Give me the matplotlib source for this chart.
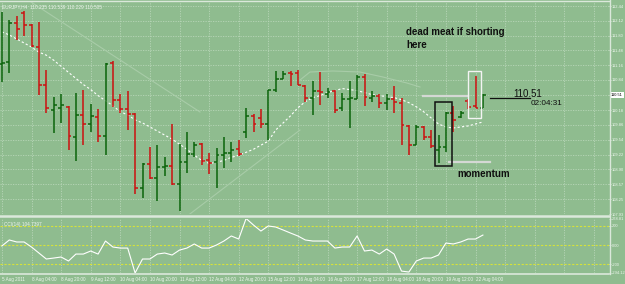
import numpy as np
import matplotlib
matplotlib.use('Agg')
import matplotlib.pyplot as plt
from matplotlib.lines import Line2D
from matplotlib.patches import Rectangle
import matplotlib.transforms as mtransforms

plt.rcParams['font.family'] = ['Liberation Sans', 'DejaVu Sans']

# EURJPY H4 bars, 5 Aug 2011 .. 22 Aug 2011
opens = [111.177, 111.221, 112.076, 112.296, 112.033, 111.550, 110.738, 110.190, 110.233, 110.255,
         109.597, 110.080, 109.882, 110.036, 109.619, 111.199, 110.409, 110.212, 110.102, 108.500,
         109.005, 108.720, 108.939, 108.961, 108.588, 109.049, 109.224, 109.444, 109.093, 109.049,
         109.202, 109.246, 109.334, 109.707, 110.058, 110.014, 109.882, 110.628, 110.848, 110.979,
         110.979, 110.716, 110.453, 110.606, 110.541, 110.606, 110.233, 110.431, 110.431, 110.892,
         110.453, 110.497, 110.343, 110.431, 110.343, 109.839, 109.422, 109.817, 109.597, 109.312,
         109.378, 110.124, 110.036, 110.387, 110.277, 110.235]
highs = [112.318, 112.142, 112.230, 112.340, 112.050, 112.098, 111.045, 110.475, 110.541, 110.277,
         110.563, 110.628, 110.321, 110.212, 111.199, 111.243, 110.541, 110.606, 110.120, 109.027,
         109.378, 109.422, 109.158, 109.882, 109.444, 109.707, 109.487, 109.466, 109.246, 109.356,
         109.597, 109.487, 109.531, 110.233, 110.102, 110.212, 110.628, 111.023, 111.023, 111.023,
         111.045, 110.738, 110.804, 111.001, 110.672, 110.620, 110.563, 110.804, 110.936, 110.958,
         110.606, 110.541, 110.541, 110.716, 110.453, 109.861, 109.861, 109.839, 109.751, 109.641,
         110.146, 110.277, 110.168, 110.431, 110.914, 110.539]
lows = [110.782, 110.979, 111.703, 111.791, 111.550, 110.519, 110.124, 109.685, 109.904, 109.312,
        109.071, 109.422, 109.707, 109.487, 109.202, 110.255, 110.124, 109.751, 108.369, 108.281,
        108.698, 108.215, 108.764, 108.566, 107.996, 108.829, 109.158, 108.983, 108.807, 108.500,
        108.917, 109.049, 109.180, 109.575, 109.707, 109.795, 109.531, 110.585, 110.848, 110.716,
        110.738, 110.365, 110.080, 110.299, 110.453, 110.124, 110.168, 109.795, 110.431, 110.277,
        110.365, 110.233, 110.190, 110.124, 109.422, 109.202, 109.422, 109.531, 109.356, 109.027,
        109.268, 109.707, 110.014, 110.212, 110.233, 110.229]
closes = [111.199, 112.076, 111.945, 112.033, 111.572, 110.738, 110.233, 110.299, 110.299, 109.619,
          110.080, 109.882, 110.058, 109.619, 111.180, 110.409, 110.212, 110.102, 108.500, 109.010,
          108.720, 108.939, 108.961, 108.588, 109.049, 109.224, 109.422, 109.071, 109.027, 109.202,
          109.246, 109.312, 109.224, 110.058, 109.882, 109.882, 110.610, 110.848, 110.958, 110.958,
          110.738, 110.453, 110.606, 110.585, 110.585, 110.190, 110.431, 110.453, 110.892, 110.475,
          110.497, 110.343, 110.431, 110.365, 109.861, 109.422, 109.817, 109.597, 109.400, 109.378,
          110.124, 109.970, 110.124, 110.255, 110.230, 110.505]
# moving average (dashed white)
ma = [111.879, 111.813, 111.725, 111.638, 111.550, 111.440, 111.374, 111.265, 111.133, 111.001,
      110.870, 110.738, 110.628, 110.497, 110.387, 110.277, 110.146, 110.080, 109.970, 109.904,
      109.817, 109.729, 109.641, 109.553, 109.444, 109.334, 109.202, 109.093, 109.027, 109.049,
      109.093, 109.158, 109.202, 109.268, 109.334, 109.422, 109.509, 109.751, 109.904, 110.058,
      110.233, 110.365, 110.453, 110.497, 110.563, 110.606, 110.650, 110.628, 110.606, 110.563,
      110.519, 110.497, 110.475, 110.453, 110.409, 110.343, 110.255, 110.146, 110.014, 109.882,
      109.817, 109.795, 109.817, 109.839, 109.882, 109.926]
# CCI(14)
cci = [-10, 53, 32, 32, -21, -84, -147, -137, -126, -168,
       -95, -95, -63, -95, 42, -21, -32, -32, -294.12, -147,
       -147, -95, -84, -105, -53, -32, 11, -32, -32, 0,
       42, 95, 63, 278.81, 210, 147, 200, 189, 158, 126,
       95, 53, 42, 42, 42, -32, -21, -21, 95, -63,
       -53, -95, -42, -95, -274, -284, -168, -137, -137, -105,
       21, 11, 32, 63, 63, 104.74]

# faint drawn lines (bar index, price)
trend_down_x = [3.53, 26.77]
trend_down_y = [112.570, 110.142]
trend_up_x = [25.4, 40.28]
trend_up_y = [107.930, 109.751]
arc_x = [40.28, 41.63, 44.74, 48.39, 51.5, 54.74, 56.5]
arc_y = [110.835, 111.009, 111.031, 111.009, 110.900, 110.770, 110.684]

time_labels = ['5 Aug 2011', '8 Aug 04:00', '8 Aug 20:00', '9 Aug 12:00', '10 Aug 04:00',
               '10 Aug 20:00', '11 Aug 12:00', '12 Aug 04:00', '12 Aug 20:00', '15 Aug 12:00',
               '16 Aug 04:00', '16 Aug 20:00', '17 Aug 12:00', '18 Aug 04:00', '18 Aug 20:00',
               '19 Aug 12:00', '22 Aug 04:00']
price_ticks = [107.93, 108.25, 108.57, 108.90, 109.22, 109.54, 109.86, 110.18, 110.51,
               110.84, 111.16, 111.48, 111.80, 112.12, 112.44]
cci_ticks = [278.81, 200, 0, -200, -294.12]
cci_tick_labels = ['278.81', '200', '0.00', '-200', '-294.12']
last_price = 110.505

BG = '#8fbc8f'
GREEN = '#0a640a'
RED = '#cc1010'
GRID = '#b8d6b8'
FAINT = '#a8cca8'
TXT = '#eef5ee'
W, H = 625, 284
SP = 7.4      # pixels per bar
X0 = 1.9      # pixel of first bar


def px_rect(x0, y0, x1, y1):
    return [x0 / W, 1 - y1 / H, (x1 - x0) / W, (y1 - y0) / H]


fig = plt.figure(figsize=(6.25, 2.84), dpi=100, facecolor=BG)
ax = fig.add_axes(px_rect(0, 2, 609, 214))
ax2 = fig.add_axes(px_rect(0, 218.5, 609, 273))
xlim = (-X0 / SP, (609 - X0) / SP)

for a in (ax, ax2):
    a.set_facecolor(BG)
    a.set_xlim(xlim)
    for s in a.spines.values():
        s.set_visible(False)
    for b in range(0, 84, 4):
        a.axvline(b, color=GRID, lw=0.6, ls=(0, (1.5, 1.5)), zorder=0)

# ---- price panel
ax.set_ylim(107.93, 112.527)
for p in price_ticks:
    ax.axhline(p, color=GRID, lw=0.6, ls=(0, (1.5, 1.5)), zorder=0)

ax.plot(trend_down_x, trend_down_y, color=FAINT, lw=0.8, zorder=1)
ax.plot(trend_up_x, trend_up_y, color=FAINT, lw=0.8, zorder=1)
ax.plot(arc_x, arc_y, color=FAINT, lw=0.8, zorder=1)

idx = np.arange(len(opens))
o = np.array(opens); h = np.array(highs); l = np.array(lows); c = np.array(closes)
cols = np.where(c >= o, GREEN, RED)
ax.vlines(idx, l, h, colors=cols, lw=1.1, zorder=3)
ax.hlines(o, idx - 0.4, idx, colors=cols, lw=1.1, zorder=3)
ax.hlines(c, idx, idx + 0.4, colors=cols, lw=1.1, zorder=3)
ax.plot(idx, ma, color='white', lw=0.8, dashes=(2, 2), zorder=2)

ax.yaxis.tick_right()
ax.set_yticks(price_ticks)
ax.set_yticklabels(['' if abs(p - 110.51) < 0.01 else f'{p:.2f}' for p in price_ticks])
ax.tick_params(axis='y', labelsize=2.9, labelcolor=TXT, color=TXT, length=1.2, width=0.5, pad=0.6)
ax.set_xticks([])
trans = mtransforms.blended_transform_factory(ax.transAxes, ax.transData)
ax.text(1.003, last_price, '110.51', transform=trans, ha='left', va='center', fontsize=2.9,
        color='black', bbox=dict(fc='white', ec='none', boxstyle='square,pad=0.2'), clip_on=False)

ax.text(0.004, 0.99, 'EURJPY,H4  110.235 110.539 110.229 110.505', transform=ax.transAxes,
        fontsize=3.4, color=TXT, ha='left', va='top')

# drawn objects
ax.add_patch(Rectangle((58.5, 108.971), 2.3, 1.387, fill=False, ec='#101010', lw=1.1, zorder=4))
ax.add_patch(Rectangle((62.99, 110.012), 1.75, 1.019, fill=False, ec='#f4f4f4', lw=1.0, zorder=4))
ax.plot([56.9, 62.99], [110.489, 110.489], color='#d4d8d4', lw=1.6, zorder=1)
ax.plot([60.4, 65.96], [109.057, 109.057], color='#d4d8d4', lw=1.6, zorder=1)
ax.plot([65.96, 71.36], [110.452, 110.452], color='#101010', lw=0.9, zorder=4)
ax.text(54.6, 111.811, 'dead meat if shorting', fontsize=7, fontweight='bold', color='#101010')
ax.text(54.6, 111.529, 'here', fontsize=7, fontweight='bold', color='#101010')
ax.text(61.5, 108.732, 'momentum', fontsize=7, fontweight='bold', color='#101010')
ax.text(69.07, 110.467, '110.51', fontsize=7, color='#101010')
ax.text(71.4, 110.29, '02:04:31', fontsize=5.9, color='#101010')

# ---- CCI panel
ax2.set_ylim(-294.12, 278.81)
for lv in (200, 0, -200):
    ax2.axhline(lv, color='#d6e23a', lw=0.8, ls=(0, (2, 1.5)), zorder=1)
ax2.plot(idx, cci, color='white', lw=0.8, zorder=3)
ax2.yaxis.tick_right()
ax2.set_yticks(cci_ticks)
ax2.set_yticklabels(cci_tick_labels)
ax2.tick_params(axis='y', labelsize=2.9, labelcolor=TXT, color=TXT, length=1.2, width=0.5, pad=0.6)
ax2.set_xticks(range(0, 4 * len(time_labels), 4))
ax2.set_xticklabels(time_labels, ha='left')
ax2.tick_params(axis='x', labelsize=3.3, labelcolor=TXT, length=0, pad=3)
ax2.text(0.006, 0.93, 'CCI(14) 104.7397', transform=ax2.transAxes, fontsize=3.4,
         color=TXT, ha='left', va='top')

# panel frames
def fline(x0, y0, x1, y1, lw):
    fig.add_artist(Line2D([x0 / W, x1 / W], [1 - y0 / H, 1 - y1 / H], color='#dbe8db', lw=lw))

fline(0, 1, 609, 1, 1.0)
fline(0, 215.5, 609, 215.5, 1.8)
fline(0, 273.5, 609, 273.5, 1.2)
fline(609.5, 0, 609.5, 274, 1.0)

fig.savefig('out.png', dpi=100, facecolor=BG)
